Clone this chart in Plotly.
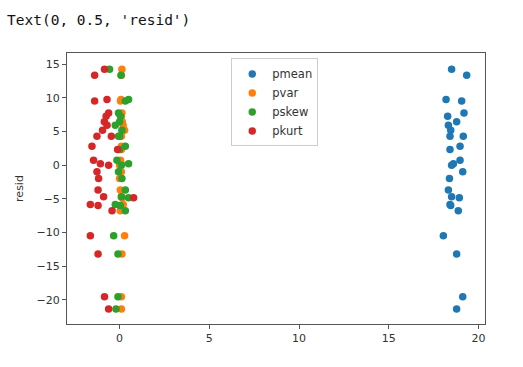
import plotly.graph_objects as go

resid = [14.24, 13.35, 9.74, 9.54, 7.76, 7.27, 6.43, 5.93, 5.19, 4.30, 4.30, 2.82, 2.33, 0.74,
         0.2, 0.0, -0.99, -2.0, -3.7, -4.7, -4.85, -5.83, -6.0, -6.78, -10.49, -13.2, -19.54, -21.37]
pmean = [18.5, 19.34, 18.19, 19.06, 19.19, 18.28, 18.78, 18.32, 18.45, 18.41, 19.15, 18.97, 18.41, 18.97,
         18.6, 18.5, 19.12, 18.38, 18.32, 18.5, 18.93, 18.41, 18.45, 18.87, 18.04, 18.78, 19.12, 18.78]
pvar = [0.13, 0.1, 0.08, 0.05, 0.13, 0.1, 0.15, 0.2, 0.28, 0.1, 0.0, 0.1, 0.1, 0.05,
        0.1, 0.0, 0.1, 0.0, 0.04, 0.1, 0.15, 0.2, 0.0, 0.04, 0.28, 0.13, 0.1, 0.1]
pskew = [-0.56, 0.08, 0.5, 0.32, -0.06, 0.05, 0.0, -0.24, 0.13, -0.06, 0.0, 0.32, 0.0, -0.15,
         0.5, 0.1, -0.06, 0.13, 0.32, 0.1, 0.5, -0.24, 0.04, 0.32, -0.33, -0.09, -0.09, -0.2]
pkurt = [-0.84, -1.39, -0.7, -1.39, -0.61, -0.75, -0.85, -0.7, -0.95, -1.26, -0.46, -1.54, -0.11, -1.45,
         -1.07, -0.61, -1.26, -1.17, -1.2, -0.89, 0.78, -1.63, -1.2, -0.42, -1.63, -1.2, -0.84, -0.61]

series = [("pmean", pmean, "#1f77b4"), ("pvar", pvar, "#ff7f0e"),
          ("pskew", pskew, "#2ca02c"), ("pkurt", pkurt, "#d62728")]
x_ticks = [0, 5, 10, 15, 20]
y_ticks = [-20, -15, -10, -5, 0, 5, 10, 15]

fig = go.Figure()
for name, xs, color in series:
    fig.add_trace(go.Scatter(x=xs, y=resid, mode="markers", name=name,
                             marker=dict(color=color, size=7.5, line=dict(width=0))))

axis_common = dict(showline=True, linecolor="#555", linewidth=1, mirror=True, automargin=False,
                   ticks="outside", ticklen=4, tickcolor="#555", showgrid=False, zeroline=False,
                   tickfont=dict(family="DejaVu Sans", size=11, color="#333"))
fig.update_xaxes(range=[-2.93, 20.36], tickvals=x_ticks, **axis_common)
fig.update_yaxes(range=[-23.6, 16.66], tickvals=y_ticks,
                 title=dict(text="resid", font=dict(family="DejaVu Sans", size=11, color="#333"), standoff=10),
                 **axis_common)

fig.update_layout(
    width=523, height=367,
    margin=dict(l=67, r=38, t=53, b=43, autoexpand=False),
    paper_bgcolor="white", plot_bgcolor="white",
    legend=dict(x=0.393, y=0.98, xanchor="left", yanchor="top",
                bordercolor="#ccc", borderwidth=1, bgcolor="white",
                font=dict(family="DejaVu Sans", size=11.5, color="#333")),
    annotations=[dict(text="Text(0, 0.5, 'resid')", xref="paper", yref="paper",
                      x=-62/418.3, y=1 + (53 - 20) / 271.6, xanchor="left", yanchor="middle",
                      showarrow=False,
                      font=dict(family="DejaVu Sans Mono", size=14.5, color="#111"))],
)

fig.write_html("out.html", config={"displayModeBar": False},
               post_script="document.body.style.margin='0';")
